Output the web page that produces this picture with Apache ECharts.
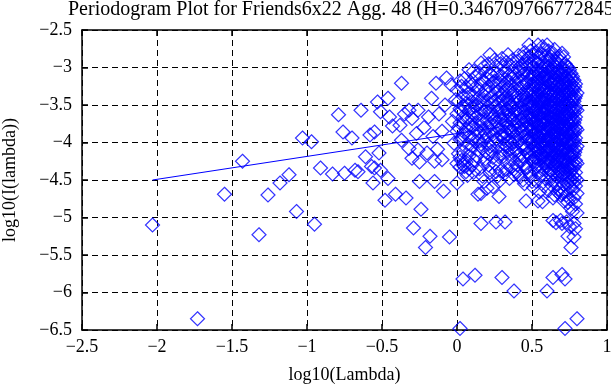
<!DOCTYPE html>
<html>
<head>
<meta charset="utf-8">
<script src="https://cdn.jsdelivr.net/npm/echarts@6/dist/echarts.min.js"></script>
<style>html,body{margin:0;padding:0;background:#fff}#c{width:611px;height:385px}</style>
</head>
<body>
<div id="c"></div>
<script>
const titleText = 'Periodogram Plot for Friends6x22 Agg. 48 (H=0.346709766772845)';
const xAxisName = 'log10(Lambda)';
const yAxisName = 'log10(I(lambda))';
const xRange = [-2.5, 1];
const yRange = [-6.5, -2.5];
const tickStep = 0.5;

// low-frequency points (log10 lambda < 0), read individually
const lowFreqPoints = [
  [-2.03,-5.10],[-1.73,-6.35],[-1.55,-4.69],[-1.43,-4.25],[-1.32,-5.23],[-1.26,-4.70],
  [-1.18,-4.54],[-1.12,-4.43],[-1.07,-4.92],[-1.03,-3.94],[-0.97,-3.99],[-0.95,-5.09],
  [-0.91,-4.34],[-0.83,-4.42],[-0.79,-3.63],[-0.76,-3.86],[-0.75,-4.41],[-0.70,-3.94],
  [-0.68,-4.37],[-0.66,-4.39],[-0.64,-3.57],[-0.61,-4.19],[-0.58,-3.90],[-0.57,-4.32],
  [-0.56,-4.54],[-0.55,-4.34],[-0.55,-3.86],[-0.53,-3.46],[-0.52,-4.14],[-0.51,-3.59],
  [-0.51,-4.37],[-0.48,-4.77],[-0.46,-3.41],[-0.46,-4.48],[-0.45,-3.66],[-0.43,-3.78],
  [-0.41,-4.69],[-0.38,-3.77],[-0.37,-3.21],[-0.37,-3.97],[-0.35,-3.62],[-0.34,-4.74],
  [-0.32,-3.57],[-0.32,-4.08],[-0.30,-4.21],[-0.30,-3.68],[-0.29,-5.14],[-0.27,-3.88],
  [-0.26,-3.57],[-0.26,-4.10],[-0.25,-4.26],[-0.25,-4.52],[-0.24,-4.89],[-0.22,-3.80],
  [-0.21,-5.40],[-0.20,-4.14],[-0.19,-3.66],[-0.18,-5.25],[-0.17,-3.41],[-0.16,-3.92],
  [-0.15,-4.25],[-0.15,-4.52],[-0.14,-3.21],[-0.13,-4.09],[-0.12,-3.62],[-0.10,-4.23],
  [-0.10,-3.85],[-0.09,-4.65],[-0.08,-3.50],[-0.07,-3.14],[-0.05,-5.26],[-0.04,-3.23],
  [-0.03,-3.72],[-0.02,-4.01],[-0.01,-3.43]
];

// columns = [log10 lambda, [log10 I values]]
const midFreqColumns = [
  [0.00,[-3.30,-3.62,-3.85,-4.28,-4.54]],
  [0.01,[-3.45,-3.80,-4.15]],
  [0.02,[-3.18,-3.55,-3.74,-3.96,-4.20,-4.33,-6.48]],
  [0.03,[-3.25,-3.58,-3.95,-4.24]],
  [0.04,[-3.38,-3.66,-3.90,-4.12,-4.30,-5.82]],
  [0.05,[-3.15,-3.52,-3.87,-4.32]],
  [0.06,[-3.26,-3.48,-3.71,-3.82,-4.26,-4.39]],
  [0.07,[-3.40,-3.68,-4.02,-4.44]],
  [0.08,[-3.03,-3.35,-3.58,-3.92,-4.18,-4.35]],
  [0.09,[-3.20,-3.55,-3.76,-4.10]],
  [0.10,[-3.23,-3.46,-3.67,-3.80,-4.05,-4.30]],
  [0.11,[-3.05,-3.38,-3.62,-3.95,-4.40]],
  [0.12,[-3.12,-3.52,-3.74,-3.99,-4.24,-5.77]],
  [0.13,[-3.25,-3.50,-3.82,-4.18]],
  [0.14,[-3.30,-3.41,-3.63,-3.88,-4.10,-4.69]],
  [0.15,[-3.08,-3.45,-3.70,-3.98,-4.35]],
  [0.16,[-2.94,-3.22,-3.55,-3.78,-4.02,-4.68,-5.08]],
  [0.17,[-3.18,-3.48,-3.72,-4.08,-4.45]],
  [0.18,[-2.99,-3.37,-3.60,-3.84,-3.97,-4.27,-4.52]],
  [0.19,[-3.05,-3.30,-3.58,-3.88,-4.22]],
  [0.20,[-3.15,-3.45,-3.70,-3.93,-4.14,-4.61]],
  [0.21,[-2.95,-3.25,-3.52,-3.80,-4.02,-4.30]],
  [0.22,[-2.83,-3.08,-3.33,-3.58,-3.76,-4.05,-4.40]],
  [0.23,[-3.10,-3.38,-3.62,-3.85,-4.12]],
  [0.24,[-3.20,-3.47,-3.66,-3.89,-4.20,-4.59]],
  [0.25,[-2.90,-3.18,-3.44,-3.70,-3.98,-4.28]],
  [0.26,[-2.98,-3.28,-3.52,-3.73,-3.95,-4.39,-5.06]],
  [0.27,[-3.08,-3.32,-3.58,-3.80,-4.06,-4.45]],
  [0.28,[-3.21,-3.40,-3.62,-3.82,-4.19,-4.52,-4.72]],
  [0.29,[-2.95,-3.18,-3.45,-3.68,-3.90,-4.15,-4.38]]
];

const highFreqColumns = [
  [0.30,[-2.88,-3.12,-3.36,-3.55,-3.70,-3.91,-4.10,-5.80]],
  [0.31,[-3.00,-3.25,-3.44,-3.60,-3.78,-3.95,-4.18]],
  [0.32,[-3.05,-3.30,-3.48,-3.64,-3.86,-4.03,-4.41,-5.06]],
  [0.33,[-2.93,-3.20,-3.38,-3.55,-3.71,-3.89,-4.06,-4.36]],
  [0.34,[-2.83,-3.17,-3.42,-3.58,-3.77,-3.96,-4.26]],
  [0.35,[-3.10,-3.29,-3.47,-3.63,-3.80,-3.98,-4.15,-4.48]],
  [0.36,[-2.98,-3.24,-3.51,-3.68,-3.84,-4.08,-4.33]],
  [0.37,[-2.90,-3.14,-3.35,-3.53,-3.70,-3.86,-4.02,-4.22]],
  [0.38,[-3.08,-3.33,-3.46,-3.62,-3.80,-3.99,-4.43,-5.98]],
  [0.39,[-3.00,-3.21,-3.40,-3.58,-3.75,-3.92,-4.10,-4.38]],
  [0.40,[-2.92,-3.15,-3.38,-3.55,-3.72,-3.88,-4.12,-4.30]],
  [0.41,[-2.84,-3.06,-3.28,-3.46,-3.63,-3.81,-3.99,-4.17,-4.42]],
  [0.42,[-3.02,-3.27,-3.44,-3.60,-3.79,-3.94,-4.22,-4.46]],
  [0.43,[-2.97,-3.18,-3.37,-3.54,-3.70,-3.86,-4.04,-4.25]],
  [0.44,[-2.86,-3.10,-3.35,-3.50,-3.66,-3.83,-4.02,-4.18,-4.50]],
  [0.45,[-2.80,-3.03,-3.24,-3.43,-3.60,-3.76,-3.92,-4.10,-4.30,-4.55]],
  [0.46,[-2.95,-3.20,-3.41,-3.57,-3.71,-3.90,-4.07,-4.35,-4.78]],
  [0.47,[-2.88,-3.12,-3.32,-3.50,-3.66,-3.82,-3.98,-4.14,-4.33]],
  [0.48,[-2.70,-2.86,-3.08,-3.30,-3.47,-3.62,-3.76,-3.95,-4.15,-4.40]],
  [0.49,[-2.78,-2.96,-3.16,-3.35,-3.52,-3.68,-3.83,-3.99,-4.18,-4.45]],
  [0.50,[-2.83,-3.00,-3.22,-3.39,-3.53,-3.68,-3.84,-4.00,-4.24,-4.52]],
  [0.51,[-2.90,-3.08,-3.26,-3.43,-3.58,-3.74,-3.90,-4.06,-4.26,-4.60]],
  [0.52,[-2.92,-3.12,-3.33,-3.45,-3.60,-3.73,-3.88,-4.05,-4.20,-4.36]],
  [0.53,[-2.80,-3.02,-3.20,-3.38,-3.54,-3.69,-3.84,-3.99,-4.14,-4.32,-4.52]],
  [0.54,[-2.70,-2.95,-3.18,-3.36,-3.50,-3.64,-3.79,-3.93,-4.10,-4.30,-4.78]],
  [0.55,[-2.88,-3.08,-3.28,-3.45,-3.62,-3.77,-3.92,-4.07,-4.22,-4.40,-4.66]],
  [0.56,[-2.82,-3.05,-3.25,-3.42,-3.56,-3.70,-3.86,-4.01,-4.16,-4.44]],
  [0.57,[-2.72,-2.94,-3.13,-3.30,-3.46,-3.61,-3.76,-3.91,-4.05,-4.20,-4.36,-4.79]],
  [0.58,[-2.76,-2.98,-3.15,-3.32,-3.47,-3.61,-3.75,-3.90,-4.06,-4.25,-4.58]],
  [0.59,[-2.85,-3.03,-3.21,-3.37,-3.53,-3.68,-3.83,-3.97,-4.12,-4.28,-4.48]],
  [0.60,[-2.70,-2.90,-3.10,-3.28,-3.43,-3.57,-3.70,-3.83,-3.97,-4.12,-4.32,-5.98]],
  [0.61,[-2.78,-2.98,-3.16,-3.33,-3.49,-3.64,-3.78,-3.92,-4.07,-4.22,-4.40,-4.64]],
  [0.62,[-2.90,-3.06,-3.22,-3.38,-3.52,-3.66,-3.80,-3.94,-4.09,-4.26,-4.50]],
  [0.63,[-2.86,-3.04,-3.21,-3.37,-3.52,-3.67,-3.81,-3.95,-4.10,-4.25,-4.45,-4.57]],
  [0.64,[-2.81,-3.00,-3.18,-3.34,-3.48,-3.62,-3.76,-3.89,-4.03,-4.18,-4.40,-4.74,-5.04,-5.80]],
  [0.65,[-2.76,-2.96,-3.14,-3.30,-3.45,-3.59,-3.73,-3.87,-4.01,-4.15,-4.31,-4.50,-4.70]],
  [0.66,[-2.92,-3.10,-3.26,-3.41,-3.55,-3.69,-3.82,-3.96,-4.10,-4.27,-4.55,-5.07]],
  [0.67,[-2.88,-3.06,-3.23,-3.38,-3.53,-3.67,-3.80,-3.94,-4.08,-4.23,-4.41,-4.66]],
  [0.68,[-2.85,-3.04,-3.20,-3.36,-3.50,-3.64,-3.77,-3.91,-4.05,-4.20,-4.38,-4.62]],
  [0.69,[-2.92,-3.09,-3.25,-3.40,-3.54,-3.68,-3.82,-3.96,-4.10,-4.25,-4.44,-4.70,-5.04]],
  [0.70,[-2.81,-3.00,-3.15,-3.30,-3.45,-3.59,-3.72,-3.86,-4.00,-4.14,-4.30,-4.48,-4.68,-5.08,-5.76]],
  [0.71,[-2.86,-3.04,-3.20,-3.35,-3.49,-3.63,-3.77,-3.91,-4.05,-4.20,-4.36,-4.56,-4.78]],
  [0.72,[-2.95,-3.12,-3.27,-3.41,-3.55,-3.68,-3.82,-3.95,-4.09,-4.24,-4.42,-4.65,-5.82,-6.48]],
  [0.73,[-2.98,-3.14,-3.29,-3.44,-3.58,-3.71,-3.85,-3.99,-4.13,-4.28,-4.46,-4.70,-5.06]],
  [0.74,[-3.00,-3.17,-3.32,-3.46,-3.60,-3.73,-3.87,-4.01,-4.15,-4.32,-4.55,-4.80,-5.25]],
  [0.75,[-3.03,-3.19,-3.34,-3.48,-3.62,-3.76,-3.90,-4.04,-4.18,-4.34,-4.52,-4.75,-5.12]],
  [0.76,[-3.08,-3.22,-3.37,-3.51,-3.65,-3.78,-3.92,-4.06,-4.21,-4.38,-4.60,-4.88,-5.40]],
  [0.77,[-3.12,-3.27,-3.41,-3.55,-3.69,-3.83,-3.97,-4.12,-4.27,-4.44,-4.64,-4.92]],
  [0.78,[-3.17,-3.30,-3.45,-3.60,-3.74,-3.88,-4.02,-4.17,-4.33,-4.52,-4.74,-5.08,-5.26]],
  [0.79,[-3.22,-3.38,-3.52,-3.66,-3.80,-3.94,-4.09,-4.24,-4.40,-4.58,-4.82,-5.15]],
  [0.80,[-3.34,-3.57,-3.83,-4.05,-4.28,-4.50,-4.68,-4.94,-6.35]]
];

// extra points filling the dense core of the cloud
const coreColumns = [
  [0.505,[-3.12,-3.30,-3.48,-3.64,-3.79,-3.95,-4.12]],
  [0.525,[-3.05,-3.24,-3.41,-3.57,-3.72,-3.87,-4.02,-4.20]],
  [0.545,[-3.14,-3.31,-3.47,-3.63,-3.78,-3.94,-4.11]],
  [0.565,[-3.02,-3.20,-3.37,-3.53,-3.68,-3.83,-3.98,-4.14,-4.32]],
  [0.585,[-3.10,-3.27,-3.43,-3.58,-3.73,-3.88,-4.03,-4.19]],
  [0.605,[-3.00,-3.18,-3.35,-3.50,-3.65,-3.80,-3.95,-4.10,-4.27]],
  [0.625,[-3.12,-3.29,-3.44,-3.59,-3.74,-3.89,-4.04,-4.21,-4.38]],
  [0.645,[-3.06,-3.23,-3.39,-3.54,-3.69,-3.84,-3.99,-4.14,-4.30]],
  [0.665,[-3.00,-3.17,-3.33,-3.48,-3.63,-3.78,-3.93,-4.08,-4.24,-4.45]],
  [0.685,[-3.11,-3.28,-3.43,-3.58,-3.73,-3.88,-4.03,-4.18,-4.34]],
  [0.705,[-3.07,-3.23,-3.38,-3.53,-3.67,-3.81,-3.96,-4.11,-4.26,-4.42]],
  [0.725,[-3.04,-3.20,-3.35,-3.50,-3.64,-3.78,-3.93,-4.08,-4.23,-4.38]],
  [0.745,[-3.10,-3.26,-3.40,-3.55,-3.69,-3.83,-3.98,-4.13,-4.28,-4.46]],
  [0.765,[-3.16,-3.31,-3.45,-3.59,-3.73,-3.87,-4.01,-4.16,-4.31,-4.50]],
  [0.785,[-3.26,-3.41,-3.56,-3.70,-3.84,-3.98,-4.13,-4.29,-4.47]]
];

// least-squares fit line endpoints
const fitLine = [[-2.03,-4.50],[0.50,-3.727]];

const columnPoints = cols => cols.flatMap(([x, ys]) => ys.map(y => [x, y]));
const points = lowFreqPoints
  .concat(columnPoints(midFreqColumns))
  .concat(columnPoints(highFreqColumns))
  .concat(columnPoints(coreColumns));

const serif = 'Liberation Serif';
const fmt = v => (v < 0 ? '\u2212' : '') + String(Math.abs(Math.round(v * 10) / 10));

const axisLineStyle = { color: '#000', width: 1.5 };
const tickStyle = { show: true, inside: true, length: 6, lineStyle: { color: '#000', width: 1.5 } };
const gridLine = { show: true, lineStyle: { color: '#000', width: 1, type: [6, 4] } };
const labelStyle = { color: '#000', fontFamily: serif, fontSize: 18, showMinLabel: true, showMaxLabel: true, formatter: fmt };

const chart = echarts.init(document.getElementById('c'), null, { renderer: 'canvas' });
chart.setOption({
  animation: false,
  backgroundColor: '#fff',
  grid: { left: 82, right: 4, top: 30, bottom: 55, containLabel: false, outerBoundsMode: 'none' },
  graphic: [{
    type: 'text', left: 68, top: 0,
    style: { text: titleText, fill: '#000', font: '20px "Liberation Serif"' }
  }],
  xAxis: [{
    type: 'value', min: xRange[0], max: xRange[1], interval: tickStep, position: 'bottom',
    name: xAxisName, nameLocation: 'middle', nameGap: 36,
    nameTextStyle: { color: '#000', fontFamily: serif, fontSize: 18 },
    axisLine: { show: true, onZero: false, lineStyle: axisLineStyle },
    axisTick: tickStyle,
    axisLabel: Object.assign({ margin: 8 }, labelStyle),
    splitLine: gridLine
  }, {
    type: 'value', min: xRange[0], max: xRange[1], interval: tickStep, position: 'top',
    axisLine: { show: true, onZero: false, lineStyle: axisLineStyle },
    axisTick: tickStyle, axisLabel: { show: false }, splitLine: { show: false }
  }],
  yAxis: [{
    type: 'value', min: yRange[0], max: yRange[1], interval: tickStep, position: 'left',
    name: yAxisName, nameLocation: 'middle', nameGap: 63,
    nameTextStyle: { color: '#000', fontFamily: serif, fontSize: 18 },
    axisLine: { show: true, onZero: false, lineStyle: axisLineStyle },
    axisTick: tickStyle,
    axisLabel: Object.assign({ margin: 10 }, labelStyle),
    splitLine: gridLine
  }, {
    type: 'value', min: yRange[0], max: yRange[1], interval: tickStep, position: 'right',
    axisLine: { show: true, onZero: false, lineStyle: axisLineStyle },
    axisTick: tickStyle, axisLabel: { show: false }, splitLine: { show: false }
  }],
  series: [{
    type: 'scatter', symbol: 'diamond', symbolSize: 14,
    itemStyle: { color: 'rgba(0,0,0,0)', borderColor: '#0000ff', borderWidth: 1.2 },
    data: points, z: 2
  }, {
    type: 'line', data: fitLine, symbol: 'none', silent: true,
    lineStyle: { color: '#0000ff', width: 1 }, z: 3
  }]
});
</script>
</body>
</html>
